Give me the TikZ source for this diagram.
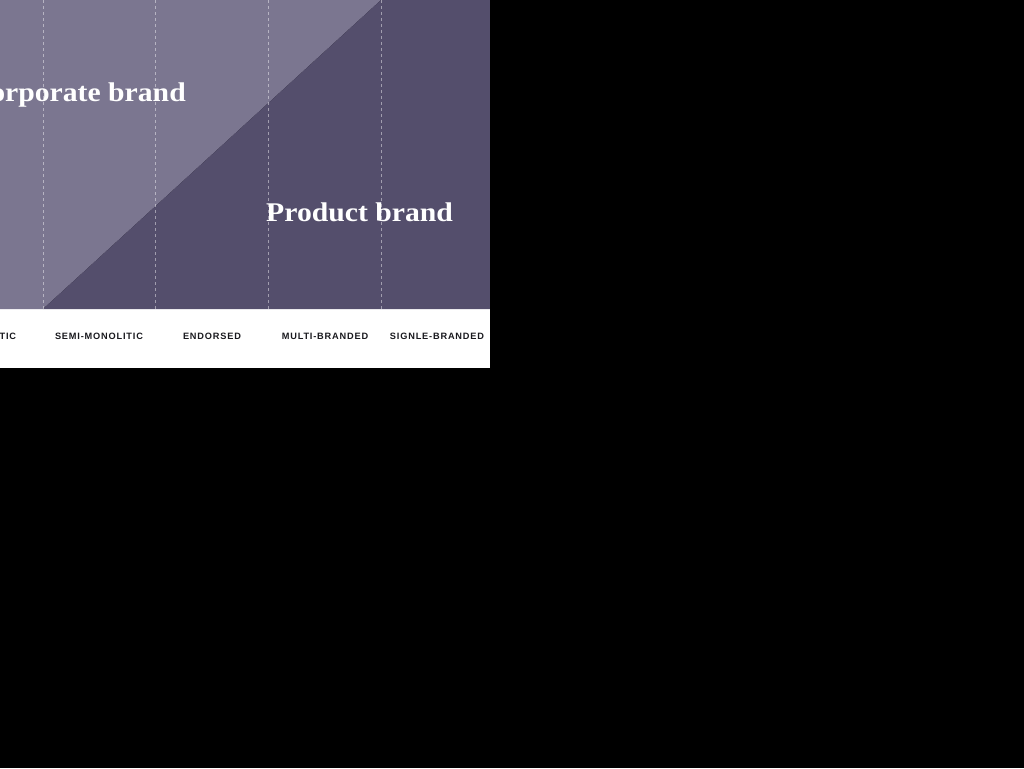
\documentclass[tikz,border=0pt]{standalone}
\usepackage{fontspec}
\setmainfont{Liberation Serif}
\newfontfamily\capsfont[LetterSpace=9]{Liberation Sans}
\definecolor{lightp}{RGB}{123,118,144}
\definecolor{darkp}{RGB}{84,78,108}
\definecolor{labelc}{RGB}{25,25,30}
\tikzset{
  colline/.style={draw=white, opacity=0.45, line width=0.6pt, dash pattern=on 3pt off 3pt},
  colabel/.style={font=\capsfont\bfseries\fontsize{9.2}{10}\selectfont, text=labelc, inner sep=0pt, anchor=center},
  brandtitle/.style={font=\bfseries\fontsize{27}{30}\selectfont, text=white, inner sep=0pt, xscale=1.1}
}
\begin{document}
\begin{tikzpicture}[x=1pt,y=-1pt]
\useasboundingbox (0,0) rectangle (1024,768);
\fill[black] (0,0) rectangle (1024,768);
% panels
\fill[white] (0,309) rectangle (490,368);
\fill[lightp] (0,0) -- (381,0) -- (43,309) -- (0,309) -- cycle;
\fill[darkp] (381,0) -- (490,0) -- (490,309) -- (43,309) -- cycle;
% column separators
\coordinate (t1) at (43,0);  \coordinate (b1) at (43,309);
\coordinate (t2) at (155,0); \coordinate (b2) at (155,309);
\coordinate (t3) at (268,0); \coordinate (b3) at (268,309);
\coordinate (t4) at (381,0); \coordinate (b4) at (381,309);
\foreach \i in {1,...,4} \draw[colline] (t\i) -- (b\i);
% titles
\node[brandtitle, anchor=base east] (corp) at (186,101) {Corporate brand};
\node[brandtitle, anchor=base west] (prod) at (266,221) {Product brand};
% labels
\node[colabel] (l0) at (-13,336) {MONOLITIC};
\node[colabel] (l1) at (99,336) {SEMI-MONOLITIC};
\node[colabel] (l2) at (212,336) {ENDORSED};
\node[colabel] (l3) at (325,336) {MULTI-BRANDED};
\node[colabel] (l4) at (437,336) {SIGNLE-BRANDED};
% right black edge cover (clip overhang)
\fill[black] (490,0) rectangle (1024,768);
\end{tikzpicture}
\end{document}
